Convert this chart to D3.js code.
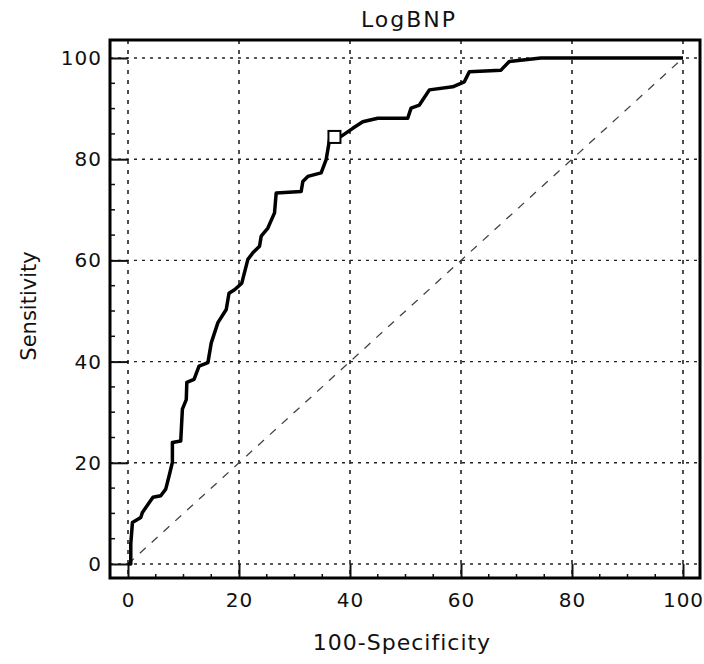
<!DOCTYPE html>
<html>
<head>
<meta charset="utf-8">
<script src="https://cdn.jsdelivr.net/npm/d3@7"></script>
<style>
  body { margin: 0; background: #fff; }
  text { font-family: "DejaVu Sans", sans-serif; fill: #111; }
</style>
</head>
<body>
<div id="chart"></div>
<script>
// ROC curve points (100-Specificity, Sensitivity)
const fpr  = [0, 0.5, 0.5, 0.8, 2.3, 2.6, 4.5, 5.9, 6.8, 7.4, 8.0, 8.0, 9.5, 9.8, 10.5, 10.6, 11.9, 12.8, 14.4, 15.0, 16.2, 17.7, 18.2, 19.2, 20.5, 21.6, 22.5, 23.7, 24.0, 25.2, 26.4, 26.7, 31.2, 31.5, 32.4, 34.8, 35.7, 36.3, 38.4, 40.5, 42.3, 45.0, 50.4, 51.0, 52.5, 54.3, 58.5, 60.6, 61.5, 67.2, 68.7, 74.4, 100];
const sens = [0, 0, 4.0, 8.2, 9.2, 10.2, 13.2, 13.5, 14.8, 17.4, 20.1, 24.0, 24.3, 30.6, 32.5, 35.9, 36.5, 39.1, 39.8, 43.7, 47.7, 50.3, 53.5, 54.2, 55.5, 60.2, 61.5, 62.8, 64.8, 66.4, 69.4, 73.3, 73.6, 75.6, 76.6, 77.3, 79.9, 83.8, 84.5, 86.1, 87.4, 88.1, 88.1, 90.1, 90.7, 93.7, 94.3, 95.3, 97.3, 97.6, 99.3, 100, 100];
const cutoff = [37.2, 84.4];
const ticks = [0, 20, 40, 60, 80, 100];
const minorTicks = [5, 10, 15, 25, 30, 35, 45, 50, 55, 65, 70, 75, 85, 90, 95];

const w = 704, h = 664;
const frame = { left: 110, top: 40, right: 700, bottom: 578 };

const x = d3.scaleLinear().domain([0, 100]).range([128, 683]);
const y = d3.scaleLinear().domain([0, 100]).range([564, 58]);

const svg = d3.select("#chart").append("svg")
    .attr("width", w)
    .attr("height", h);

svg.append("rect").attr("width", w).attr("height", h).attr("fill", "#fff");

// grid
svg.append("g").selectAll("line")
    .data(ticks)
    .enter().append("line")
    .attr("x1", d => x(d)).attr("x2", d => x(d))
    .attr("y1", frame.top).attr("y2", frame.bottom)
    .attr("stroke", "#222")
    .attr("stroke-width", 1.6)
    .attr("stroke-dasharray", "4,6");

svg.append("g").selectAll("line")
    .data(ticks)
    .enter().append("line")
    .attr("y1", d => y(d)).attr("y2", d => y(d))
    .attr("x1", frame.left).attr("x2", frame.right)
    .attr("stroke", "#222")
    .attr("stroke-width", 1.4)
    .attr("stroke-dasharray", "3,5");

// reference diagonal
svg.append("line")
    .attr("x1", x(0)).attr("y1", y(0))
    .attr("x2", x(100)).attr("y2", y(100))
    .attr("stroke", "#444")
    .attr("stroke-width", 1.3)
    .attr("stroke-dasharray", "8,8");

// axes (ticks point inward, up to the zero gridline)
const yAxis = d3.axisLeft(y).tickValues(ticks)
    .tickSizeInner(-(x(0) - frame.left)).tickSizeOuter(0).tickPadding(8);
const xAxis = d3.axisBottom(x).tickValues(ticks)
    .tickSizeInner(-(frame.bottom - y(0))).tickSizeOuter(0).tickPadding(15);

const gy = svg.append("g").attr("transform", `translate(${frame.left},0)`).call(yAxis);
const gx = svg.append("g").attr("transform", `translate(0,${frame.bottom})`).call(xAxis);

[gy, gx].forEach(g => {
    g.select(".domain").remove();
    g.selectAll(".tick line").attr("stroke", "#111").attr("stroke-width", 2);
    g.selectAll(".tick text")
        .attr("font-family", "DejaVu Sans")
        .attr("font-size", 20)
        .attr("letter-spacing", "1px")
        .attr("fill", "#111");
});

svg.append("g").selectAll("line")
    .data(minorTicks)
    .enter().append("line")
    .attr("x1", frame.left).attr("x2", frame.left + 5)
    .attr("y1", d => y(d)).attr("y2", d => y(d))
    .attr("stroke", "#111").attr("stroke-width", 1.5);

svg.append("g").selectAll("line")
    .data(minorTicks)
    .enter().append("line")
    .attr("y1", frame.bottom).attr("y2", frame.bottom - 4)
    .attr("x1", d => x(d)).attr("x2", d => x(d))
    .attr("stroke", "#111").attr("stroke-width", 1.5);

// ROC curve
const pts = fpr.map((d, i) => [d, sens[i]]);
svg.append("path")
    .datum(pts)
    .attr("fill", "none")
    .attr("stroke", "#000")
    .attr("stroke-width", 3.5)
    .attr("stroke-linejoin", "round")
    .attr("d", d3.line().x(d => x(d[0])).y(d => y(d[1])));

// criterion marker
svg.append("rect")
    .attr("x", x(cutoff[0]) - 6)
    .attr("y", y(cutoff[1]) - 6)
    .attr("width", 12).attr("height", 12)
    .attr("fill", "#fff")
    .attr("stroke", "#000")
    .attr("stroke-width", 2);

// frame
svg.append("rect")
    .attr("x", frame.left).attr("y", frame.top)
    .attr("width", frame.right - frame.left)
    .attr("height", frame.bottom - frame.top)
    .attr("fill", "none")
    .attr("stroke", "#000")
    .attr("stroke-width", 3);

// titles
svg.append("text")
    .attr("x", 409).attr("y", 27)
    .attr("text-anchor", "middle")
    .attr("font-size", 22)
    .attr("letter-spacing", "2px")
    .text("LogBNP");

svg.append("text")
    .attr("x", 402).attr("y", 650)
    .attr("text-anchor", "middle")
    .attr("font-size", 22)
    .attr("letter-spacing", "1px")
    .text("100-Specificity");

svg.append("text")
    .attr("transform", "translate(36,306) rotate(-90)")
    .attr("text-anchor", "middle")
    .attr("font-size", 21)
    .text("Sensitivity");
</script>
</body>
</html>
